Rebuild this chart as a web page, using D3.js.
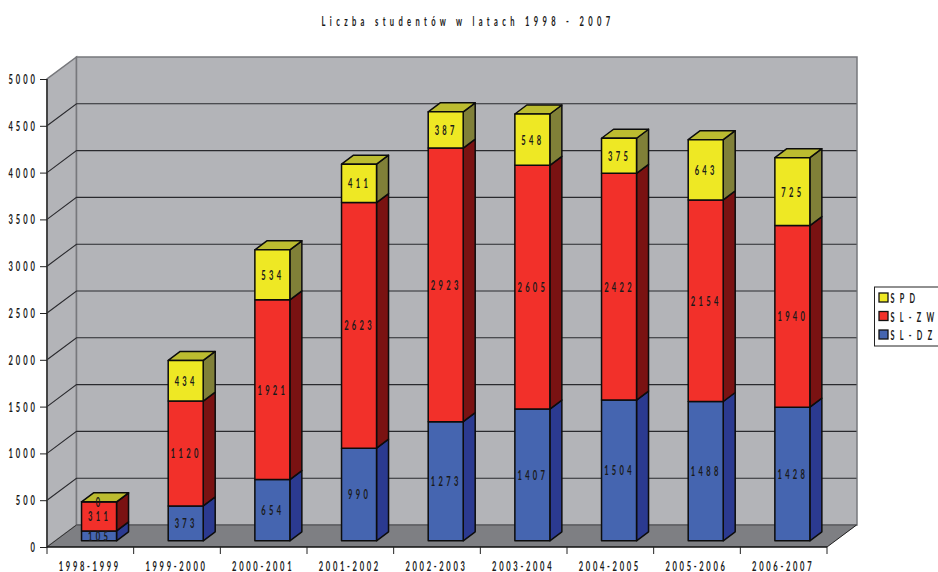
<!DOCTYPE html>
<html><head><meta charset="utf-8">
<script src="https://cdn.jsdelivr.net/npm/d3@7"></script>
<style>
html,body{margin:0;padding:0;background:#fff;overflow:hidden}
text{font-family:Lato,"Open Sans",sans-serif;fill:#1a1a1a}
</style></head><body>
<svg id="c" width="938" height="572"></svg>
<script>
const title = "Liczba studentów w latach 1998 - 2007";
const categories = ["1998-1999","1999-2000","2000-2001","2001-2002","2002-2003","2003-2004","2004-2005","2005-2006","2006-2007"];
const slDz = [105,373,654,990,1273,1407,1504,1488,1428];
const slZw = [311,1120,1921,2623,2923,2605,2422,2154,1940];
const spd  = [0,434,534,411,387,548,375,643,725];
const seriesNames = ["S L - D Z","S L - Z W","S P D"];
const yTicks = [0,500,1000,1500,2000,2500,3000,3500,4000,4500,5000];

const svg = d3.select("#c");
const x = d3.scaleBand().domain(categories).range([47,827]);
const y = d3.scaleLinear().domain([0,5000]).range([547,79]);
const wallDx = 29.5, wallDy = -22;
const barW = 35, barShiftX = 8.7, barShiftY = -6.2, barDx = 12, barDy = -9;
const colors = [
 {front:"#4565b0",side:"#2b3a90",top:"#4565b0"},
 {front:"#f2302a",side:"#7a1212",top:"#f2302a"},
 {front:"#eee824",side:"#808038",top:"#bcbc30"}
];
const path = pts => "M"+pts.map(p=>p.join(",")).join("L")+"Z";
const [xL,xR] = x.range(), y0 = y(0), yT = y(5000);
const SX = 0.56;
// condensed text: the wide letter spacing is given in screen pixels
function label(parent,px,py,str,anchor,size,ls){
  return parent.append("text")
    .attr("transform",`translate(${px},${py}) scale(${SX},1)`)
    .attr("text-anchor",anchor).attr("font-size",size)
    .attr("letter-spacing",ls/SX).attr("font-weight",700).text(str);
}

// walls and floor
svg.append("path").attr("d",path([[xL,y0],[xL+wallDx,y0+wallDy],[xL+wallDx,yT+wallDy],[xL,yT]])).attr("fill","#b3b4b8").attr("stroke","#77787c").attr("stroke-width",1.5);
svg.append("path").attr("d",path([[xL+wallDx,y0+wallDy],[xR+wallDx+0.5,y0+wallDy],[xR+wallDx+0.5,yT+wallDy],[xL+wallDx,yT+wallDy]])).attr("fill","#b3b4b8").attr("stroke","#77787c").attr("stroke-width",1.5);
svg.append("path").attr("d",path([[xL,y0],[xR,y0],[xR+wallDx+0.5,y0+wallDy],[xL+wallDx,y0+wallDy]])).attr("fill","#7e7f83");

// gridlines
yTicks.filter(t=>t>0&&t<5000).forEach(t=>{
  svg.append("path").attr("d",`M${xL},${y(t)}L${xL+wallDx},${y(t)+wallDy}L${xR+wallDx},${y(t)+wallDy}`)
    .attr("fill","none").attr("stroke","#2a2a2e").attr("stroke-width",1.1);
});
svg.append("line").attr("x1",xL+wallDx).attr("x2",xR+wallDx).attr("y1",y0+wallDy).attr("y2",y0+wallDy).attr("stroke","#4a4a4e").attr("stroke-width",1.2);
svg.append("line").attr("x1",xL).attr("x2",xL+wallDx).attr("y1",y0).attr("y2",y0+wallDy).attr("stroke","#333").attr("stroke-width",1);
svg.append("line").attr("x1",xR).attr("x2",xR+wallDx).attr("y1",y0).attr("y2",y0+wallDy).attr("stroke","#222").attr("stroke-width",1);

// bars
const stacked = d3.stack().keys([0,1,2]).value((d,k)=>[slDz,slZw,spd][k][d])(d3.range(categories.length));
const labels = [];
categories.forEach((c,i)=>{
  const xa = x(c)+x.bandwidth()/2 - barW/2 + barShiftX, xb = xa + barW;
  stacked.forEach((s,k)=>{
    const ya = y(s[i][0])+barShiftY, yb = y(s[i][1])+barShiftY;
    const st = {stroke:"#0c0c0c","stroke-width":1.5,"stroke-linejoin":"round"};
    const add = (pts,fill)=>{const p=svg.append("path").attr("d",path(pts)).attr("fill",fill);Object.entries(st).forEach(([a,v])=>p.attr(a,v));};
    add([[xb,ya],[xb+barDx,ya+barDy],[xb+barDx,yb+barDy],[xb,yb]],colors[k].side);
    if(k===2) add([[xa,yb],[xb,yb],[xb+barDx,yb+barDy],[xa+barDx,yb+barDy]],colors[k].top);
    add([[xa,ya],[xb,ya],[xb,yb],[xa,yb]],colors[k].front);
    labels.push({x:(xa+xb)/2,y:(ya+yb)/2,v:[slDz,slZw,spd][k][i]});
  });
});
labels.forEach(l=>label(svg,l.x+0.5,l.y+5,String(l.v),"middle",13.5,3.3));

// axes
const axisY = d3.axisLeft(y).tickValues(yTicks).tickSize(7).tickFormat(d=>d);
const gy = svg.append("g").attr("transform",`translate(${xL},0)`).call(axisY);
gy.select(".domain").attr("stroke","#333").attr("stroke-width",1.6).attr("d",`M0,${yT}V${y0}`);
gy.selectAll(".tick line").attr("stroke","#222");
gy.selectAll(".tick text").remove();
yTicks.forEach(t=>label(svg,38,y(t)+5,String(t),"end",13.5,3.0));

const gx = svg.append("g").attr("transform",`translate(0,${y0})`);
gx.append("line").attr("x1",xL).attr("x2",xR).attr("stroke","#111").attr("stroke-width",1.6);
[...categories.map(c=>x(c)),xR].forEach(v=>{
  gx.append("line").attr("x1",v).attr("x2",v).attr("y1",0).attr("y2",7).attr("stroke","#222");
});
categories.forEach(c=>label(gx,x(c)+x.bandwidth()/2-0.5,24,c,"middle",13.5,2.7));

// title
label(svg,468,26,title,"middle",13.5,4.35);

// legend
svg.append("rect").attr("x",874.5).attr("y",287).attr("width",70).attr("height",59).attr("fill","#fff").attr("stroke","#222").attr("stroke-width",1);
[2,1,0].forEach((k,i)=>{
  const yy = 293 + i*18.5;
  svg.append("rect").attr("x",879).attr("y",yy).attr("width",9).attr("height",9).attr("fill",colors[k].front).attr("stroke","#111").attr("stroke-width",1.3);
  label(svg,890.5,yy+10,seriesNames[k],"start",13,1.8);
});
</script></body></html>
